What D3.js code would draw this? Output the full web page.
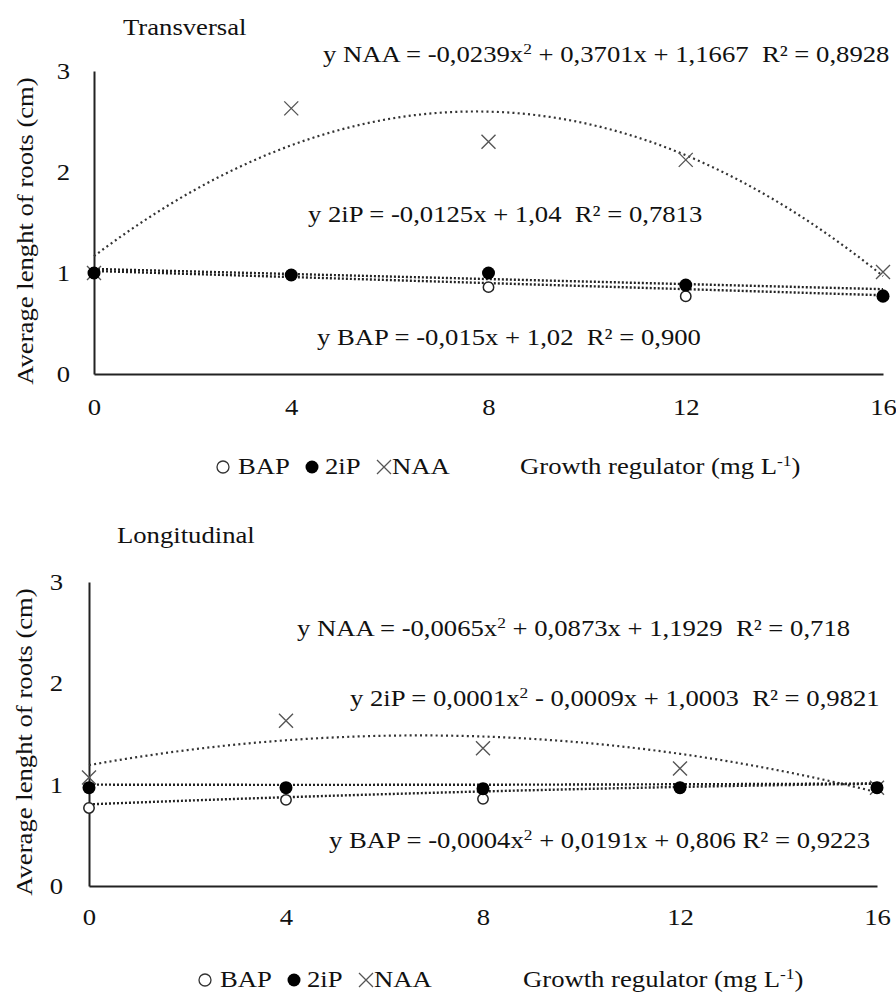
<!DOCTYPE html>
<html>
<head>
<meta charset="utf-8">
<script src="https://cdn.jsdelivr.net/npm/d3@7"></script>
<style>
  body { margin: 0; background: #fff; }
  svg text { font-family: "Liberation Serif", "Times New Roman", serif; fill: #111; white-space: pre; }
</style>
</head>
<body>
<svg id="chart" width="896" height="992" font-family="Liberation Serif, serif"></svg>
<script>
// Doses of growth regulator (mg L-1)
const doses = [0, 4, 8, 12, 16];
const yTicks = [0, 1, 2, 3];

// Transversal explants - average root length (cm)
const transBAP = [1.0, 0.98, 0.86, 0.77, 0.78];
const trans2iP = [1.0, 0.98, 1.0, 0.88, 0.77];
const transNAA = [1.0, 2.63, 2.30, 2.12, 1.01];

// Longitudinal explants
const longBAP = [0.77, 0.85, 0.86, 0.97, 0.97];
const long2iP = [0.97, 0.97, 0.96, 0.97, 0.97];
const longNAA = [1.07, 1.63, 1.36, 1.16, 0.97];

// Trend line coefficients [a, b, c] for y = a*x^2 + b*x + c (as printed on the chart)
const transFitBAP = [0, -0.015, 1.02];
const transFit2iP = [0, -0.0125, 1.04];
const transFitNAA = [-0.0239, 0.3701, 1.1667];
const longFitBAP = [-0.0004, 0.0191, 0.806];
const longFit2iP = [0.0001, -0.0009, 1.0003];
const longFitNAA = [-0.0065, 0.0873, 1.1929];

// Equation labels ("^2" / "^-1" mark a superscript)
const transEqNAA = "y NAA = -0,0239x^2 + 0,3701x + 1,1667  R² = 0,8928";
const transEq2iP = "y 2iP = -0,0125x + 1,04  R² = 0,7813";
const transEqBAP = "y BAP = -0,015x + 1,02  R² = 0,900";
const longEqNAA = "y NAA = -0,0065x^2 + 0,0873x + 1,1929  R² = 0,718";
const longEq2iP = "y 2iP = 0,0001x^2 - 0,0009x + 1,0003  R² = 0,9821";
const longEqBAP = "y BAP = -0,0004x^2 + 0,0191x + 0,806 R² = 0,9223";
const xTitle = "Growth regulator (mg L^-1)";
const yTitle = "Average lenght of roots (cm)";

const svg = d3.select("#chart");
const fs = 23;      // font size
const sx = 1.16;    // the source text is a bit wider than Liberation Serif
const serif = '"Liberation Serif", "Times New Roman", serif';

// text with superscripts, stretched horizontally
function label(g, str, x, y, rot) {
    const t = g.append("text")
        .attr("transform", `translate(${x},${y})${rot ? " rotate(-90)" : ""} scale(${sx},1)`)
        .attr("text-anchor", rot ? "middle" : "start")
        .style("font-size", fs + "px").style("font-family", serif);
    const parts = str.split(/\^(2|-1)/);
    parts.forEach((p, i) => {
        if (i % 2 === 0) t.append("tspan").text(p);
        else t.append("tspan").attr("baseline-shift", "super").style("font-size", "15px").text(p);
    });
    return t;
}

function drawPanel(opt) {
    const g = svg.append("g");
    const x = d3.scaleLinear().domain([0, 16]).range([opt.left, opt.right]);
    const y = d3.scaleLinear().domain([0, 3]).range([opt.bottom, opt.top]);

    label(g, opt.title, opt.titleX, opt.titleY);

    // axes: lines and labels only, no tick marks
    const yAxis = g.append("g").attr("transform", `translate(${opt.left},0)`)
        .call(d3.axisLeft(y).tickValues(yTicks).tickFormat(d3.format("d")).tickSize(0).tickPadding(opt.yPad));
    const xAxis = g.append("g").attr("transform", `translate(0,${opt.bottom})`)
        .call(d3.axisBottom(x).tickValues(doses).tickFormat(d3.format("d")).tickSize(0).tickPadding(opt.xPad));
    [yAxis, xAxis].forEach(a => {
        a.attr("font-family", null).attr("font-size", null);
        a.select(".domain").attr("stroke", "#222").attr("stroke-width", 2);
        a.selectAll("text").style("font-size", fs + "px").style("font-family", serif)
            .attr("fill", "#111").attr("transform", `scale(${sx},1)`);
    });

    label(g, yTitle, opt.yTitleX, opt.yTitleY, true);

    // trend lines
    const line = d3.line().x(d => x(d[0])).y(d => y(d[1]));
    const xs = d3.range(0, 16.01, 0.25);
    const fits = [
        { c: opt.fitNAA, color: "#333", dash: "2,3.2", w: 2.2 },
        { c: opt.fit2iP, color: "#222", dash: "2,2", w: 2.4 },
        { c: opt.fitBAP, color: "#222", dash: "2,2", w: 2.4 }
    ];
    fits.forEach(f => {
        g.append("path")
            .datum(xs.map(v => [v, f.c[0] * v * v + f.c[1] * v + f.c[2]]))
            .attr("d", line).attr("fill", "none")
            .attr("stroke", f.color).attr("stroke-width", f.w)
            .attr("stroke-dasharray", f.dash);
    });

    // markers
    g.selectAll(".bap").data(opt.bap).join("circle")
        .attr("cx", (d, i) => x(doses[i])).attr("cy", d => y(d)).attr("r", 5.2)
        .attr("fill", "#fff").attr("stroke", "#222").attr("stroke-width", 1.5);
    g.selectAll(".naa").data(opt.naa).join("path")
        .attr("transform", (d, i) => `translate(${x(doses[i])},${y(d)})`)
        .attr("d", "M-7,-7L7,7M-7,7L7,-7")
        .attr("stroke", "#555").attr("stroke-width", 1.4);
    g.selectAll(".ip").data(opt.ip).join("circle")
        .attr("cx", (d, i) => x(doses[i])).attr("cy", d => y(d)).attr("r", 6.5)
        .attr("fill", "#000");

    // equations
    label(g, opt.eqNAA, opt.eqPos[0][0], opt.eqPos[0][1]);
    label(g, opt.eq2iP, opt.eqPos[1][0], opt.eqPos[1][1]);
    label(g, opt.eqBAP, opt.eqPos[2][0], opt.eqPos[2][1]);

    // legend
    const lx = opt.legX, ly = opt.legY;
    g.append("circle").attr("cx", lx).attr("cy", ly - 7).attr("r", 6)
        .attr("fill", "#fff").attr("stroke", "#333").attr("stroke-width", 1.3);
    label(g, "BAP", lx + 15, ly);
    g.append("circle").attr("cx", lx + 89).attr("cy", ly - 7).attr("r", 6.5).attr("fill", "#000");
    label(g, "2iP", lx + 102, ly);
    g.append("path").attr("transform", `translate(${lx + 161},${ly - 7})`)
        .attr("d", "M-7,-7L7,7M-7,7L7,-7").attr("stroke", "#555").attr("stroke-width", 1.3);
    label(g, "NAA", lx + 169, ly);

    label(g, xTitle, opt.gX, ly);
}

drawPanel({
    title: "Transversal", titleX: 123, titleY: 35,
    left: 94, right: 883, top: 71, bottom: 374, yPad: 20.7, xPad: 25,
    yTitleX: 33, yTitleY: 231,
    bap: transBAP, ip: trans2iP, naa: transNAA,
    fitBAP: transFitBAP, fit2iP: transFit2iP, fitNAA: transFitNAA,
    eqNAA: transEqNAA, eq2iP: transEq2iP, eqBAP: transEqBAP,
    eqPos: [[323, 62], [308, 222], [317, 345]],
    legX: 223, legY: 474, gX: 520
});

drawPanel({
    title: "Longitudinal", titleX: 117, titleY: 543,
    left: 89, right: 877, top: 582, bottom: 886, yPad: 22.4, xPad: 23,
    yTitleX: 32, yTitleY: 742,
    bap: longBAP, ip: long2iP, naa: longNAA,
    fitBAP: longFitBAP, fit2iP: longFit2iP, fitNAA: longFitNAA,
    eqNAA: longEqNAA, eq2iP: longEq2iP, eqBAP: longEqBAP,
    eqPos: [[297, 636], [350, 706], [329, 848]],
    legX: 205, legY: 987, gX: 523
});
</script>
</body>
</html>
